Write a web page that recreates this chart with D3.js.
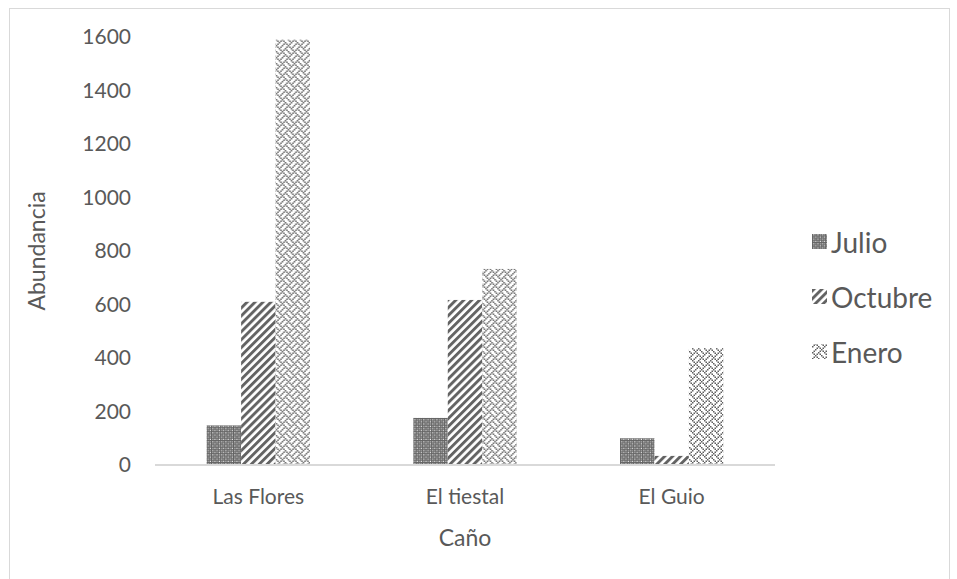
<!DOCTYPE html>
<html>
<head>
<meta charset="utf-8">
<script src="https://cdn.jsdelivr.net/npm/d3@7"></script>
<style>
  html, body { margin: 0; padding: 0; background: #fff; }
  svg { display: block; }
  text { font-family: Lato, "Open Sans", sans-serif; fill: #595959; }
</style>
</head>
<body>
<svg id="chart" width="957" height="579"></svg>
<script>
// Abundance per caño and sampling month
const categories = ["Las Flores", "El tiestal", "El Guio"];
const seriesNames = ["Julio", "Octubre", "Enero"];
const julio   = [148, 176, 100];
const octubre = [610, 617, 34];
const enero   = [1590, 733, 437];
const yTicks  = [0, 200, 400, 600, 800, 1000, 1200, 1400, 1600];

const seriesValues = [julio, octubre, enero];

const svg = d3.select("#chart");
const defs = svg.append("defs");

// Fill patterns (pixel hatch styles)
const INK = "#636363";

// Julio: dark lattice with light dots
(function () {
  const p = defs.append("pattern").attr("id", "pat-julio")
    .attr("patternUnits", "userSpaceOnUse").attr("width", 4.4).attr("height", 4.4);
  p.append("rect").attr("width", 4.4).attr("height", 4.4).attr("fill", INK);
  [[1.1, 1.1, "#ffffff"], [3.3, 3.3, "#ffffff"], [3.3, 1.1, "#bdbdbd"], [1.1, 3.3, "#bdbdbd"]]
    .forEach(([x, y, c]) => p.append("rect").attr("x", x).attr("y", y)
      .attr("width", 1.1).attr("height", 1.1).attr("fill", c));
})();

// Octubre: wide upward diagonal stripes
(function () {
  const p = defs.append("pattern").attr("id", "pat-octubre")
    .attr("patternUnits", "userSpaceOnUse").attr("width", 5.6).attr("height", 10)
    .attr("patternTransform", "rotate(45)");
  p.append("rect").attr("width", 5.6).attr("height", 10).attr("fill", "#ffffff");
  p.append("rect").attr("width", 2.9).attr("height", 10).attr("fill", INK);
})();

// Enero: weave of sparse pixels
(function () {
  const bits = [
    "10001000",
    "01010100",
    "00100010",
    "01010001",
    "10001000",
    "00010101",
    "00100010",
    "01000101"
  ];
  const s = 1.5;
  const p = defs.append("pattern").attr("id", "pat-enero")
    .attr("patternUnits", "userSpaceOnUse").attr("width", 8 * s).attr("height", 8 * s);
  p.append("rect").attr("width", 8 * s).attr("height", 8 * s).attr("fill", "#ffffff");
  bits.forEach((row, y) => row.split("").forEach((b, x) => {
    if (b === "1") p.append("rect").attr("x", x * s).attr("y", y * s)
      .attr("width", s).attr("height", s).attr("fill", "#5f5f5f");
  }));
})();

const fills = ["url(#pat-julio)", "url(#pat-octubre)", "url(#pat-enero)"];

// Chart area outline
svg.append("rect")
  .attr("x", 9.5).attr("y", 8.5).attr("width", 940).attr("height", 620)
  .attr("fill", "none").attr("stroke", "#d9d9d9").attr("stroke-width", 1);

// Scales
const x0 = d3.scaleBand().domain(categories).range([155, 775])
  .paddingInner(0.5).paddingOuter(0.25);
const x1 = d3.scaleBand().domain(seriesNames).range([0, x0.bandwidth()]);
const y = d3.scaleLinear().domain([0, 1600]).range([465, 37]);

// Y axis labels (no line, no ticks)
const yAxis = d3.axisLeft(y).tickValues(yTicks).tickSize(0).tickPadding(0)
  .tickFormat(d3.format("d"));
const gy = svg.append("g").attr("transform", "translate(131,0)").call(yAxis);
gy.select(".domain").remove();
gy.selectAll("text").attr("fill", "#595959").style("font-size", "21px")
  .style("font-family", "Lato, 'Open Sans', sans-serif");

// Bars
const groups = svg.append("g").selectAll("g")
  .data(categories).join("g")
  .attr("transform", d => `translate(${x0(d)},0)`);

groups.selectAll("rect")
  .data((c, i) => seriesNames.map((s, k) => ({ s, k, v: seriesValues[k][i] })))
  .join("rect")
  .attr("x", d => x1(d.s))
  .attr("width", x1.bandwidth())
  .attr("y", d => y(d.v))
  .attr("height", d => y(0) - y(d.v))
  .attr("fill", d => fills[d.k]);

// X axis: baseline plus category labels
const xAxis = d3.axisBottom(x0).tickSize(0).tickPadding(0);
const gx = svg.append("g").attr("transform", `translate(0,${y(0)})`).call(xAxis);
gx.select(".domain").attr("stroke", "#d9d9d9").attr("stroke-width", 2)
  .attr("d", "M155,0H775");
gx.selectAll("text").attr("fill", "#595959").attr("y", 32)
  .attr("dy", "0.35em").style("font-size", "21px")
  .style("font-family", "Lato, 'Open Sans', sans-serif");

// Axis titles
svg.append("text")
  .attr("transform", "translate(36,251) rotate(-90)")
  .attr("text-anchor", "middle").attr("dominant-baseline", "central")
  .style("font-size", "23px").text("Abundancia");

svg.append("text")
  .attr("x", 465).attr("y", 537)
  .attr("text-anchor", "middle").attr("dominant-baseline", "central")
  .style("font-size", "23px").text("Caño");

// Legend
const legend = svg.append("g").selectAll("g")
  .data(seriesNames).join("g")
  .attr("transform", (d, i) => `translate(812,${242 + i * 55})`);
legend.append("rect")
  .attr("x", 0).attr("y", -8).attr("width", 15).attr("height", 15)
  .attr("fill", (d, i) => fills[i]);
legend.append("text")
  .attr("x", 19).attr("y", 0).attr("dominant-baseline", "central")
  .style("font-size", "28px").text(d => d);
</script>
</body>
</html>
